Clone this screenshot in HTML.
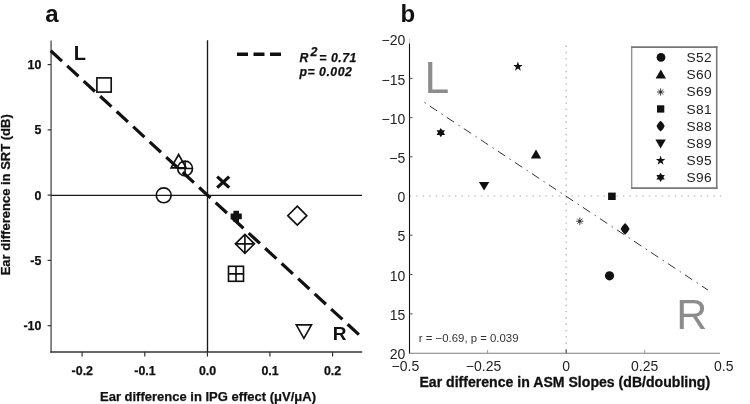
<!DOCTYPE html>
<html>
<head>
<meta charset="utf-8">
<title>Figure</title>
<style>
html,body{margin:0;padding:0;background:#fff;}
body{width:750px;height:404px;overflow:hidden;font-family:"Liberation Sans",sans-serif;}
svg{display:block;position:absolute;left:0;top:0;filter:grayscale(1);}
text{font-family:"Liberation Sans",sans-serif;}
.ba{font-weight:bold;font-size:12.4px;fill:#111;stroke:#111;stroke-width:0.25px;}
.tb{font-size:14px;fill:#222;}
.lg{font-size:13.7px;fill:#222;letter-spacing:0.35px;}
</style>
</head>
<body>
<svg width="750" height="404" viewBox="0 0 750 404">
<rect x="0" y="0" width="750" height="404" fill="#ffffff"/>

<!-- ================= PANEL A ================= -->
<g id="panelA">
  <text x="45.3" y="22.1" font-size="24" font-weight="bold" fill="#111">a</text>

  <!-- axes -->
  <line x1="51.1" y1="40.5" x2="51.1" y2="352.7" stroke="#6c6c6c" stroke-width="1.6"/>
  <line x1="50.3" y1="352" x2="362.2" y2="352" stroke="#333" stroke-width="1.6"/>
  <!-- zero lines -->
  <line x1="207.5" y1="40.3" x2="207.5" y2="352" stroke="#1a1a1a" stroke-width="1.35"/>
  <line x1="51.1" y1="195.35" x2="362" y2="195.35" stroke="#1a1a1a" stroke-width="1.4"/>

  <!-- y ticks -->
  <g stroke="#333" stroke-width="1.2">
    <line x1="47.6" y1="64.6" x2="51.1" y2="64.6"/>
    <line x1="47.6" y1="129.9" x2="51.1" y2="129.9"/>
    <line x1="47.6" y1="195.1" x2="51.1" y2="195.1"/>
    <line x1="47.6" y1="260.4" x2="51.1" y2="260.4"/>
    <line x1="47.6" y1="325.7" x2="51.1" y2="325.7"/>
    <!-- x ticks -->
    <line x1="82.1" y1="351.8" x2="82.1" y2="356.5"/>
    <line x1="144.8" y1="351.8" x2="144.8" y2="356.5"/>
    <line x1="207.4" y1="351.8" x2="207.4" y2="356.5"/>
    <line x1="269.9" y1="351.8" x2="269.9" y2="356.5"/>
    <line x1="332.6" y1="351.8" x2="332.6" y2="356.5"/>
  </g>

  <!-- y tick labels -->
  <g class="ba" text-anchor="end">
    <text x="41.3" y="69.1">10</text>
    <text x="41.3" y="134.4">5</text>
    <text x="41.3" y="199.6">0</text>
    <text x="41.3" y="264.9">-5</text>
    <text x="41.3" y="330.2">-10</text>
  </g>
  <!-- x tick labels -->
  <g class="ba" text-anchor="middle">
    <text x="82.3" y="375.1">-0.2</text>
    <text x="145" y="375.1">-0.1</text>
    <text x="207.6" y="375.1">0.0</text>
    <text x="270.1" y="375.1">0.1</text>
    <text x="332.5" y="375.1">0.2</text>
  </g>

  <!-- axis titles -->
  <text x="208" y="400.5" text-anchor="middle" font-size="13" font-weight="bold" fill="#111" stroke="#111" stroke-width="0.25">Ear difference in IPG effect (&#956;V/&#956;A)</text>
  <text transform="translate(10.3,194.8) rotate(-90)" text-anchor="middle" font-size="13" font-weight="bold" fill="#111" stroke="#111" stroke-width="0.25">Ear difference in SRT (dB)</text>

  <!-- regression line -->
  <line x1="50.7" y1="50.7" x2="359.3" y2="335" stroke="#111" stroke-width="3.2" stroke-dasharray="15.3 7.13"/>

  <!-- L / R -->
  <text x="73.8" y="60.4" font-size="20" font-weight="bold" fill="#111">L</text>
  <text x="332.8" y="339.5" font-size="19" font-weight="bold" fill="#111">R</text>

  <!-- legend -->
  <line x1="237" y1="54.2" x2="283" y2="54.2" stroke="#111" stroke-width="3.4" stroke-dasharray="11 5.5"/>
  <text x="299.5" y="61.6" font-size="12.3" font-weight="bold" font-style="italic" fill="#111" stroke="#111" stroke-width="0.25" letter-spacing="0.5">R<tspan dx="1.7" dy="-5.4" font-size="12.4">2</tspan><tspan dy="5.4" dx="-2.6"> = 0.71</tspan></text>
  <text x="299.5" y="76.4" font-size="12.3" font-weight="bold" font-style="italic" fill="#111" stroke="#111" stroke-width="0.25" letter-spacing="0.5">p= 0.002</text>

  <!-- markers -->
  <g fill="none" stroke="#111" stroke-width="1.65">
    <!-- open square -->
    <rect x="96.9" y="77.9" width="14.3" height="14.2"/>
    <!-- open circle -->
    <circle cx="163.7" cy="195.3" r="7.45"/>
    <!-- triangle up -->
    <path d="M178.6 154.5 L186.1 167.9 L171.1 167.9 Z"/>
    <!-- circle with cross -->
    <circle cx="185.1" cy="168.5" r="7.4"/>
    <path d="M177.7 168.5 H192.5 M185.1 161.1 V175.9"/>
    <!-- open diamond -->
    <path d="M297.3 206.2 L306.8 215.7 L297.3 225.2 L287.8 215.7 Z"/>
    <!-- diamond with cross -->
    <path d="M244.9 234.3 L254.4 243.8 L244.9 253.3 L235.4 243.8 Z"/>
    <path d="M235.4 243.8 H254.4 M244.9 234.3 V253.3"/>
    <!-- square with cross -->
    <rect x="228.5" y="266.3" width="15" height="15"/>
    <path d="M228.5 273.8 H243.5 M236 266.3 V281.3"/>
    <!-- triangle down -->
    <path d="M296.3 324.85 L311.5 324.85 L303.9 338.4 Z"/>
  </g>
  <!-- x marker -->
  <path d="M217.2 176.6 L229.2 187.6 M229.2 176.6 L217.2 187.6" stroke="#111" stroke-width="3.3" fill="none"/>
  <!-- filled plus -->
  <path d="M233.4 210.8 H239 V213.6 H241.8 V219.2 H239 V222 H233.4 V219.2 H230.6 V213.6 H233.4 Z" fill="#111"/>
</g>

<!-- ================= PANEL B ================= -->
<g id="panelB">
  <text x="400.5" y="21.5" font-size="24" font-weight="bold" fill="#111">b</text>

  <!-- dotted zero lines -->
  <line x1="409.8" y1="195.8" x2="722" y2="195.8" stroke="#bbb" stroke-width="1.2" stroke-dasharray="1.4 5.06"/>
  <line x1="566.2" y1="45.5" x2="566.2" y2="349" stroke="#aaa" stroke-width="1.2" stroke-dasharray="1.4 4.92"/>

  <!-- axes -->
  <line x1="409.5" y1="38.4" x2="409.5" y2="44" stroke="#ccc" stroke-width="1.1"/>
  <line x1="409.5" y1="43.5" x2="409.5" y2="353.7" stroke="#111" stroke-width="1.1"/>
  <line x1="409" y1="353.3" x2="720" y2="353.3" stroke="#7c7c7c" stroke-width="1.05"/>

  <!-- ticks -->
  <g stroke="#555" stroke-width="1">
    <line x1="409.5" y1="78.4" x2="412.5" y2="78.4"/>
    <line x1="409.5" y1="117.6" x2="412.5" y2="117.6"/>
    <line x1="409.5" y1="156.8" x2="412.5" y2="156.8"/>
    <line x1="409.5" y1="235.2" x2="412.5" y2="235.2"/>
    <line x1="409.5" y1="274.5" x2="412.5" y2="274.5"/>
    <line x1="409.5" y1="313.9" x2="412.5" y2="313.9"/>
  </g>
  <g stroke="#999" stroke-width="1">
    <line x1="487.6" y1="353.2" x2="487.6" y2="349.8"/>
    <line x1="566.2" y1="353.2" x2="566.2" y2="349.3" stroke="#666" stroke-width="1.4"/>
    <line x1="644.7" y1="353.2" x2="644.7" y2="349.8"/>
  </g>

  <!-- y labels -->
  <g class="tb" text-anchor="end">
    <text x="405.3" y="44.7">&#8722;20</text>
    <text x="405.3" y="84.6">&#8722;15</text>
    <text x="405.3" y="123.8">&#8722;10</text>
    <text x="405.3" y="162.9">&#8722;5</text>
    <text x="405.3" y="202.0">0</text>
    <text x="405.3" y="241.4">5</text>
    <text x="405.3" y="280.7">10</text>
    <text x="405.3" y="320.1">15</text>
    <text x="405.3" y="359.4">20</text>
  </g>
  <!-- x labels -->
  <g class="tb" text-anchor="middle">
    <text x="405.4" y="370.9">&#8722;0.5</text>
    <text x="483.5" y="370.9">&#8722;0.25</text>
    <text x="566.2" y="370.9">0</text>
    <text x="644.7" y="370.9">0.25</text>
    <text x="723.7" y="370.9">0.5</text>
  </g>

  <text x="564.8" y="387" text-anchor="middle" font-size="14.1" font-weight="bold" fill="#111" stroke="#111" stroke-width="0.3">Ear difference in ASM Slopes (dB/doubling)</text>

  <text x="418.8" y="341.8" font-size="11.4" fill="#333">r = &#8722;0.69, p = 0.039</text>

  <!-- big L / R -->
  <text x="424.5" y="93.4" font-size="44.5" fill="#8c8c8e">L</text>
  <text x="676.2" y="329.1" font-size="43" fill="#8c8c8e">R</text>

  <!-- regression line -->
  <line x1="424.5" y1="102.6" x2="708" y2="290.1" stroke="#333" stroke-width="1" stroke-dasharray="1.3 5 8.8 5.3"/>

  <!-- data markers -->
  <g fill="#111" stroke="none">
    <!-- S52 circle -->
    <circle cx="609.5" cy="275.8" r="4.6"/>
    <!-- S60 triangle up -->
    <path d="M536 149.6 L541.2 158.6 L530.8 158.6 Z"/>
    <!-- S81 square -->
    <rect x="608.1" y="192.6" width="7.6" height="7.4"/>
    <!-- S88 diamond -->
    <path transform="translate(625.1,228.9)" d="M0 -5.8 Q3 -3 4.5 0 Q3 3 0 5.8 Q-3 3 -4.5 0 Q-3 -3 0 -5.8 Z"/>
    <!-- S89 triangle down -->
    <path d="M478.9 182 L489.3 182 L484.1 190.6 Z"/>
    <!-- S95 star -->
    <path id="star5" transform="translate(517.9,66.6)" d="M0 -5 L1.18 -1.62 L4.76 -1.55 L1.9 0.62 L2.94 4.05 L0 2 L-2.94 4.05 L-1.9 0.62 L-4.76 -1.55 L-1.18 -1.62 Z"/>
    <!-- S96 hexagram -->
    <path id="star6" transform="translate(440.8,132.6)" d="M0 -4.6 L1.45 -2.3 L4.2 -2.3 L2.8 0 L4.2 2.3 L1.45 2.3 L0 4.6 L-1.45 2.3 L-4.2 2.3 L-2.8 0 L-4.2 -2.3 L-1.45 -2.3 Z"/>
  </g>
  <!-- S69 asterisk -->
  <g stroke="#333" stroke-width="0.9" fill="none" transform="translate(579.8,221.2)">
    <path d="M-3.7 0 H3.7 M0 -3.7 V3.7 M-2.6 -2.6 L2.6 2.6 M-2.6 2.6 L2.6 -2.6"/><circle cx="0" cy="0" r="1.3" fill="#333" stroke="none"/>
  </g>

  <!-- legend -->
  <rect x="631.2" y="46.2" width="86.3" height="142.7" fill="#fff" stroke="none"/>
  <g stroke="#777" fill="none">
    <line x1="631.2" y1="47.05" x2="717.5" y2="47.05" stroke-width="1.7"/>
    <line x1="631.2" y1="188.05" x2="717.5" y2="188.05" stroke-width="1.7"/>
    <line x1="631.75" y1="46.2" x2="631.75" y2="188.9" stroke-width="1.1"/>
    <line x1="716.7" y1="46.2" x2="716.7" y2="188.9" stroke-width="1.6"/>
  </g>
  <g fill="#111" stroke="none">
    <circle cx="661" cy="57.4" r="4.4"/>
    <path d="M660.8 69.5 L666 78.5 L655.6 78.5 Z"/>
    <rect x="657" y="105.3" width="7.3" height="7.3"/>
    <path transform="translate(660.6,126.1)" d="M0 -5.4 Q3.2 -2.9 4.1 0 Q3.2 2.9 0 5.4 Q-3.2 2.9 -4.1 0 Q-3.2 -2.9 0 -5.4 Z"/>
    <path d="M655.4 139.6 L665.8 139.6 L660.6 148.4 Z"/>
    <path transform="translate(660.6,160.6)" d="M0 -5 L1.18 -1.62 L4.76 -1.55 L1.9 0.62 L2.94 4.05 L0 2 L-2.94 4.05 L-1.9 0.62 L-4.76 -1.55 L-1.18 -1.62 Z"/>
    <path transform="translate(660.6,177.3)" d="M0 -4.6 L1.45 -2.3 L4.2 -2.3 L2.8 0 L4.2 2.3 L1.45 2.3 L0 4.6 L-1.45 2.3 L-4.2 2.3 L-2.8 0 L-4.2 -2.3 L-1.45 -2.3 Z"/>
  </g>
  <g stroke="#333" stroke-width="0.9" fill="none" transform="translate(660.6,92)">
    <path d="M-3.7 0 H3.7 M0 -3.7 V3.7 M-2.6 -2.6 L2.6 2.6 M-2.6 2.6 L2.6 -2.6"/><circle cx="0" cy="0" r="1.3" fill="#333" stroke="none"/>
  </g>
  <g class="lg">
    <text x="686.6" y="62.2">S52</text>
    <text x="686.6" y="79.3">S60</text>
    <text x="686.6" y="96.4">S69</text>
    <text x="686.6" y="113.6">S81</text>
    <text x="686.6" y="130.7">S88</text>
    <text x="686.6" y="147.8">S89</text>
    <text x="686.6" y="165">S95</text>
    <text x="686.6" y="182.1">S96</text>
  </g>
</g>
</svg>
</body>
</html>
